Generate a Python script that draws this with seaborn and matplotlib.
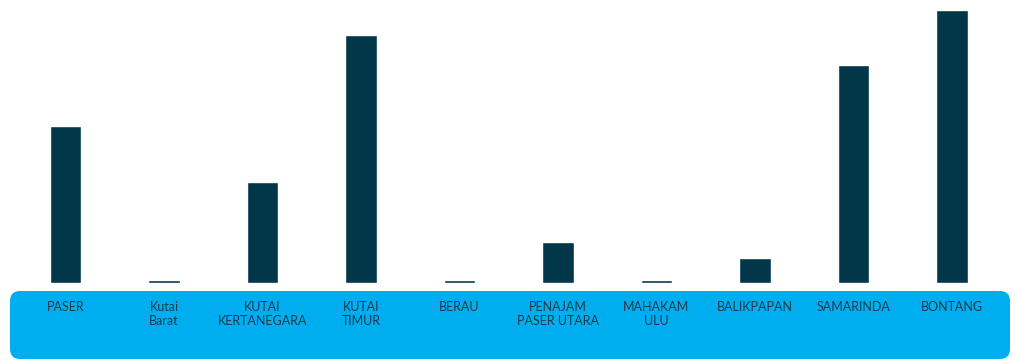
import matplotlib
matplotlib.use("Agg")
import matplotlib.pyplot as plt
import seaborn as sns
import pandas as pd
from matplotlib.patches import FancyBboxPatch
from matplotlib.transforms import IdentityTransform

regions = ["PASER", "Kutai\nBarat", "KUTAI\nKERTANEGARA", "KUTAI\nTIMUR", "BERAU",
           "PENAJAM\nPASER UTARA", "MAHAKAM\nULU", "BALIKPAPAN", "SAMARINDA", "BONTANG"]
values = [157, 3, 101, 248, 3, 41, 3, 25, 218, 273]

bar_color = "#02374a"
band_color = "#00aeef"
label_color = "#1d3a4b"

sns.set_style("white")
plt.rcParams["font.family"] = ["Lato", "DejaVu Sans"]

df = pd.DataFrame({"region": regions, "value": values})

fig = plt.figure(figsize=(10.15, 3.6), dpi=100)
ax = fig.add_axes([16.25 / 1015, 77 / 360, 985 / 1015, 283 / 360])
sns.barplot(data=df, x="region", y="value", color=bar_color, width=0.315,
            saturation=1, ax=ax)
ax.set_xlim(-0.5, 9.5)
ax.set_ylim(0, 283)
ax.set_xlabel("")
ax.set_ylabel("")
ax.set_yticks([])
ax.tick_params(axis="x", length=0, pad=13, labelsize=9, labelcolor=label_color)
for s in ax.spines.values():
    s.set_visible(False)
ax.patch.set_alpha(0)

# blue band behind the category labels
band = FancyBboxPatch((10, 1), 1000, 68, boxstyle="round,pad=0,rounding_size=10",
                      facecolor=band_color, edgecolor="none",
                      transform=IdentityTransform(), zorder=-1)
fig.add_artist(band)

fig.savefig("out.png", dpi=100)
